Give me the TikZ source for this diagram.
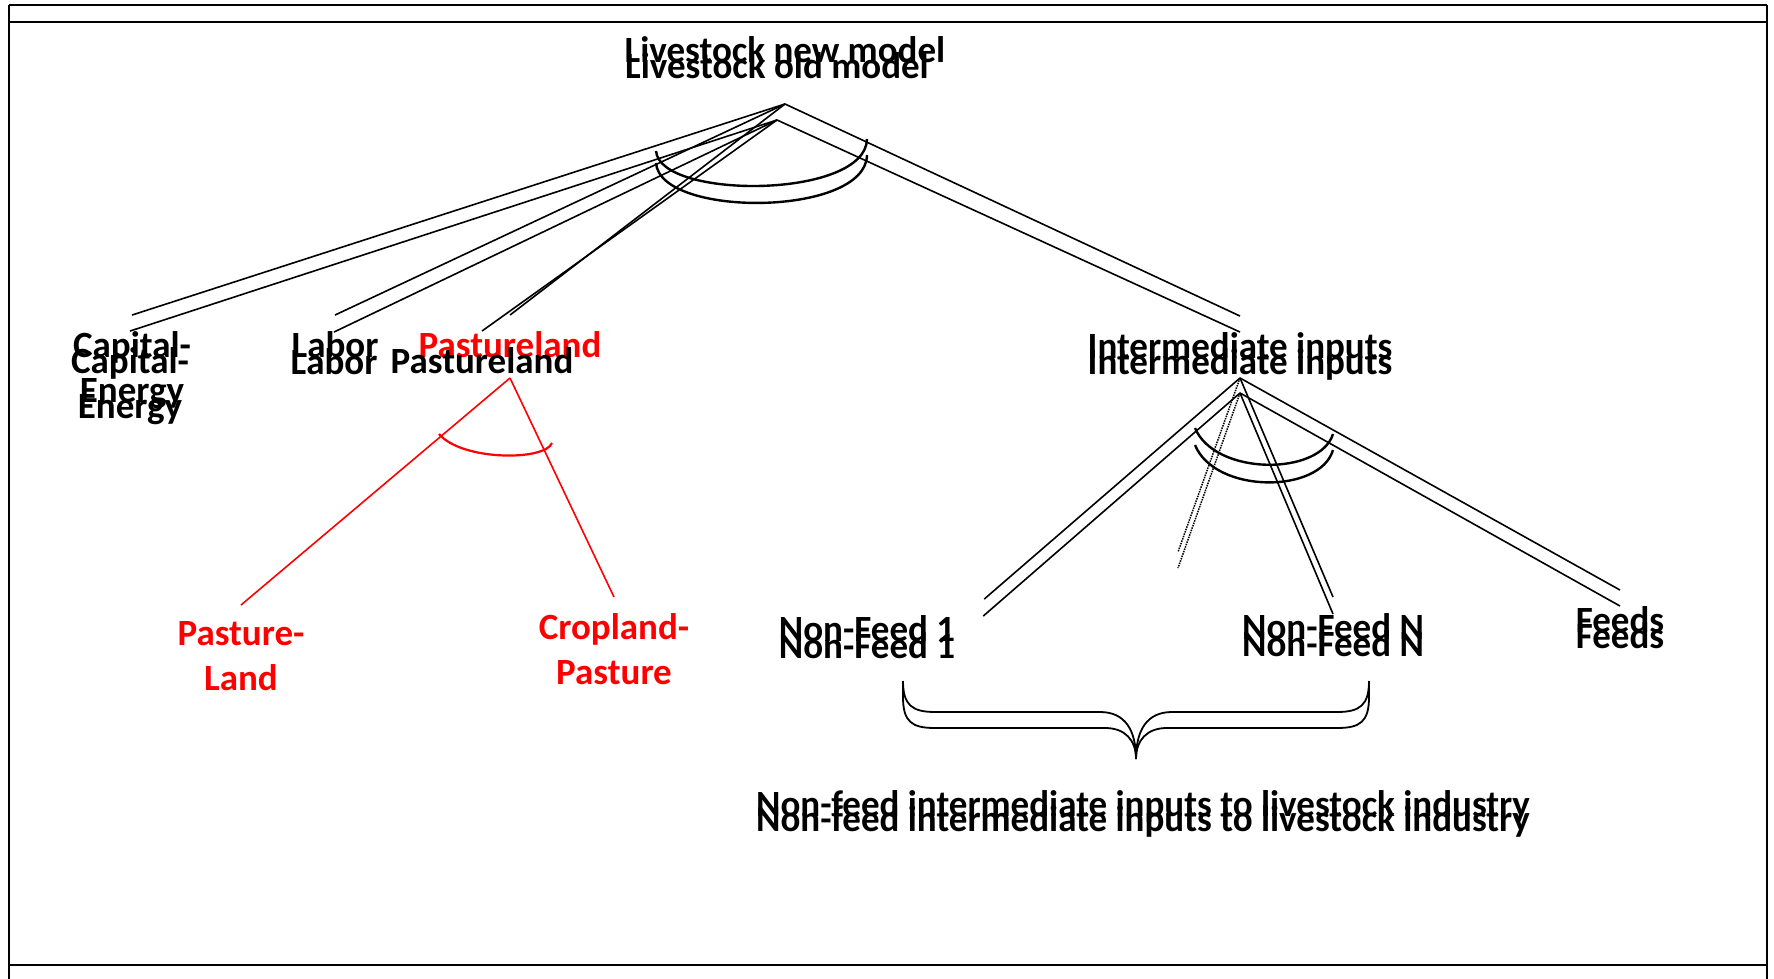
\documentclass[tikz,border=0pt]{standalone}
\usepackage{fontspec}
\setmainfont{Carlito}
\begin{document}
\begin{tikzpicture}[x=1pt,y=-1pt,
  lbl/.style={font=\fontsize{37}{45}\selectfont\bfseries, inner sep=0pt, outer ysep=16pt, anchor=base, align=center},
  conn/.style={line width=1.6pt},
  redconn/.style={conn, draw=red},
  arcline/.style={line width=2.4pt},
  dots/.style={line width=1.5pt, densely dotted},
  frame/.style={line width=2.5pt}]
\useasboundingbox (0,0) rectangle (1774,979);

% table frame
\draw[frame] (9,5) -- (1767,5);
\draw[frame] (9,22) -- (1767,22);
\draw[frame] (9,965) -- (1767,965);
\draw[line width=2pt] (9,5) -- (9,979);
\draw[line width=2pt] (1767,5) -- (1767,979);

% titles
\node[lbl] (titN) at (785,63) {Livestock new model};
\node[lbl] (titO) at (777,79) {Livestock old model};
\coordinate (apxN) at (785,104);
\coordinate (apxO) at (777,120);

% first level (two-line labels sit on their last baseline)
\node[lbl] (capN) at (132,402) {Capital-\\Energy};
\node[lbl] (capO) at (130,418) {Capital-\\Energy};
\node[lbl] (labN) at (335,357) {Labor};
\node[lbl] (labO) at (334,374) {Labor};
\node[lbl, text=red] (pasR) at (510,357) {Pastureland};
\node[lbl] (pasK) at (482,373) {Pastureland};
\node[lbl] (intN) at (1240,358) {Intermediate inputs};
\node[lbl] (intO) at (1240,374) {Intermediate inputs};

\draw[conn] (apxN) -- (capN.north);
\draw[conn] (apxO) -- (capO.north);
\draw[conn] (apxN) -- (labN.north);
\draw[conn] (apxO) -- (labO.north);
\draw[conn] (apxN) -- (pasR.north);
\draw[conn] (apxO) -- (pasK.north);
\draw[conn] (apxN) -- (intN.north);
\draw[conn] (apxO) -- (intO.north);

% top arcs
\draw[arcline] (656,151) .. controls (660,200) and (866,199) .. (867,139);
\draw[arcline] (656,163) .. controls (660,218) and (866,217) .. (867,155);

% pastureland split
\coordinate (apxR) at (510,378);
\node[lbl, text=red] (pl) at (241,690) {Pasture-\\Land};
\node[lbl, text=red] (cp) at (614,684) {Cropland-\\Pasture};
\draw[redconn] (apxR) -- (pl.north);
\draw[redconn] (apxR) -- (cp.north);
\draw[line width=2.2pt, red] (439,434) .. controls (462,461) and (545,461) .. (552,443);

% intermediate inputs split
\coordinate (apxIN) at (1240,378);
\coordinate (apxIO) at (1240,393);
\node[lbl] (nf1N) at (867,641) {Non-Feed 1};
\node[lbl] (nf1O) at (867,658) {Non-Feed 1};
\node[lbl] (nfnN) at (1333,639) {Non-Feed N};
\node[lbl] (nfnO) at (1333,656) {Non-Feed N};
\node[lbl] (feN) at (1620,632) {Feeds};
\node[lbl] (feO) at (1620,648) {Feeds};
\coordinate (dotN) at (1178,552);
\coordinate (dotO) at (1178,568);

\draw[conn] (apxIN) -- ([xshift=29pt]nf1N.north east);
\draw[conn] (apxIO) -- ([xshift=28pt]nf1O.north east);
\draw[dots] (apxIN) -- (dotN);
\draw[dots] (apxIO) -- (dotO);
\draw[conn] (apxIN) -- (nfnN.north);
\draw[conn] (apxIO) -- (nfnO.north);
\draw[conn] (apxIN) -- (feN.north);
\draw[conn] (apxIO) -- (feO.north);

\draw[arcline] (1195,428) .. controls (1215,476) and (1320,476) .. (1333,434);
\draw[arcline] (1195,445) .. controls (1215,494) and (1320,494) .. (1333,450);

% brace under the non-feed inputs
\draw[line width=1.8pt] (903,681) .. controls (903,705) and (912,712) .. (935,712) -- (1100,712)
  .. controls (1125,712) and (1136,730) .. (1136,759)
  .. controls (1136,730) and (1147,712) .. (1172,712) -- (1337,712)
  .. controls (1360,712) and (1369,705) .. (1369,681);
\draw[line width=1.8pt] (903,681) -- (903,697) .. controls (903,722) and (912,728) .. (935,728) -- (1105,728)
  .. controls (1125,728) and (1136,740) .. (1136,759)
  .. controls (1136,740) and (1147,728) .. (1167,728) -- (1337,728)
  .. controls (1360,728) and (1369,722) .. (1369,697) -- (1369,681);

\node[lbl] (nfiN) at (1143,816) {Non-feed intermediate inputs to livestock industry};
\node[lbl] (nfiO) at (1143,831) {Non-feed intermediate inputs to livestock industry};
\end{tikzpicture}
\end{document}
